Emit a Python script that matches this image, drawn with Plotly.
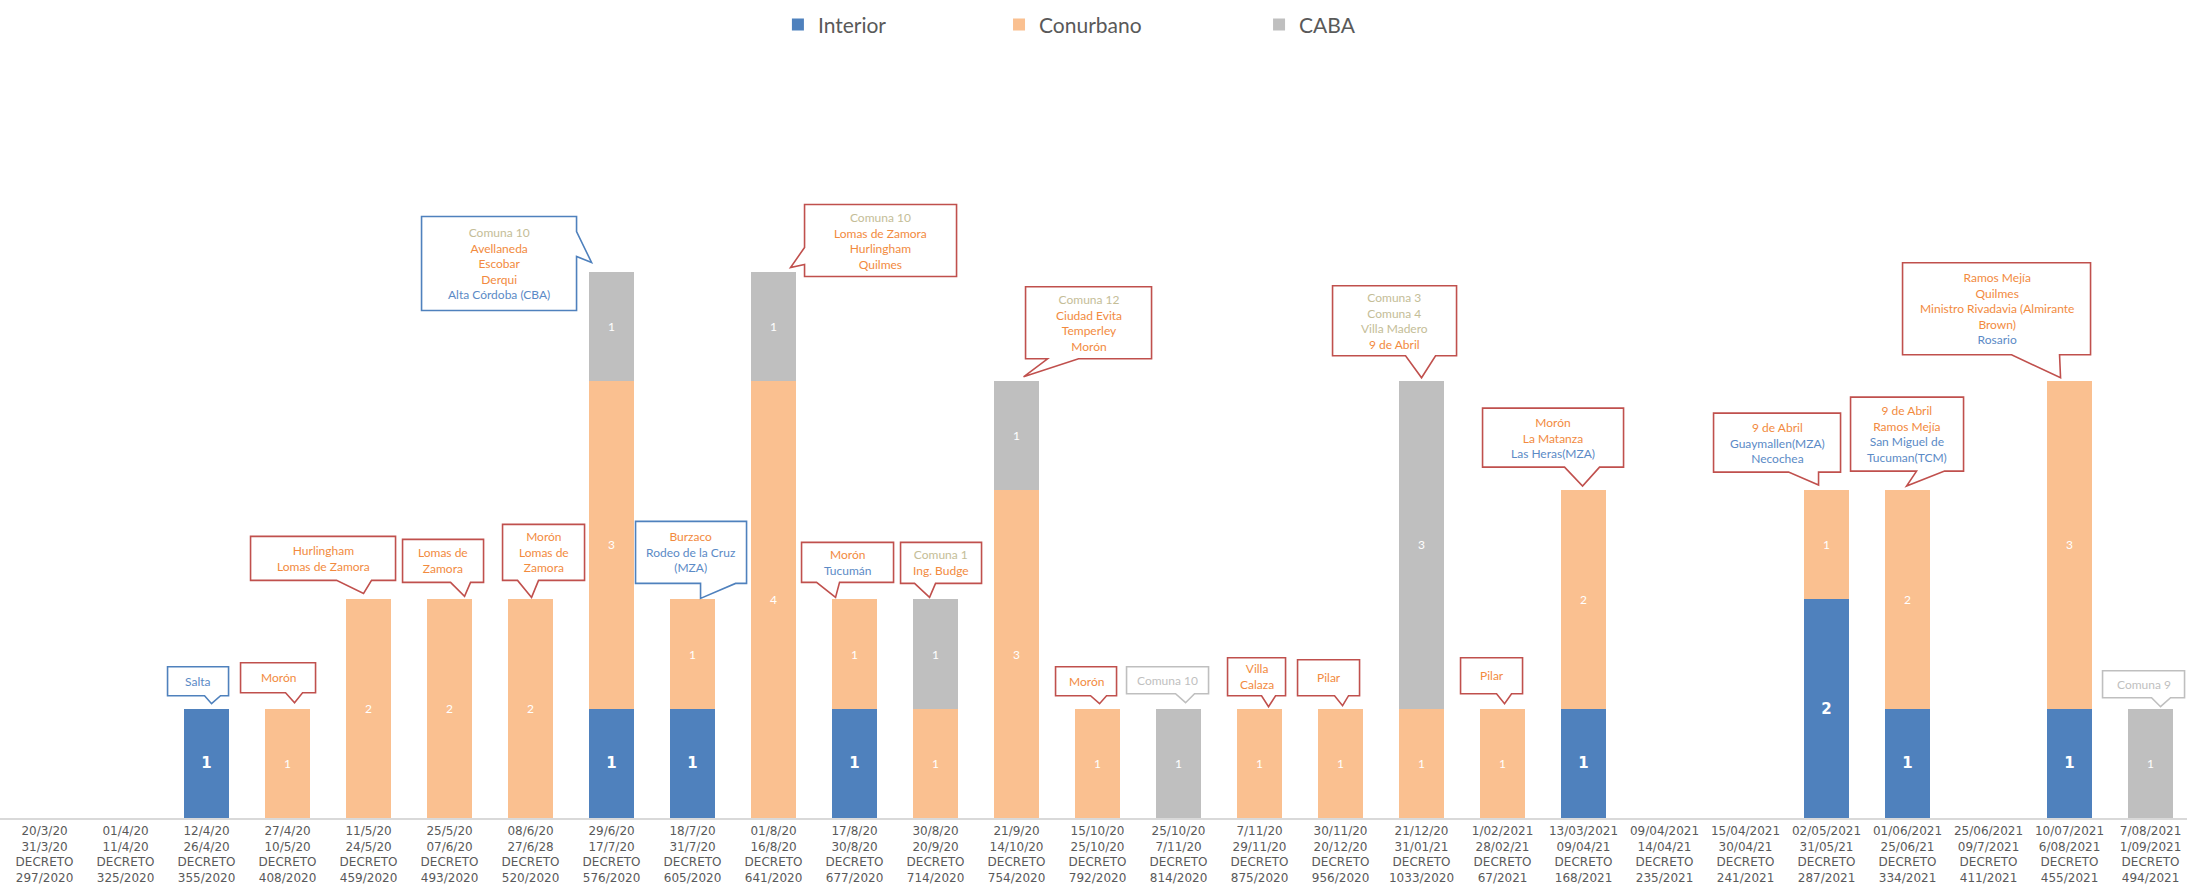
import plotly.graph_objects as go

# ---------------- data ----------------
period_start = ["20/3/20", "01/4/20", "12/4/20", "27/4/20", "11/5/20", "25/5/20", "08/6/20",
                "29/6/20", "18/7/20", "01/8/20", "17/8/20", "30/8/20", "21/9/20", "15/10/20",
                "25/10/20", "7/11/20", "30/11/20", "21/12/20", "1/02/2021", "13/03/2021",
                "09/04/2021", "15/04/2021", "02/05/2021", "01/06/2021", "25/06/2021",
                "10/07/2021", "7/08/2021"]
period_end = ["31/3/20", "11/4/20", "26/4/20", "10/5/20", "24/5/20", "07/6/20", "27/6/28",
              "17/7/20", "31/7/20", "16/8/20", "30/8/20", "20/9/20", "14/10/20", "25/10/20",
              "7/11/20", "29/11/20", "20/12/20", "31/01/21", "28/02/21", "09/04/21",
              "14/04/21", "30/04/21", "31/05/21", "25/06/21", "09/7/2021", "6/08/2021",
              "1/09/2021"]
decretos = ["297/2020", "325/2020", "355/2020", "408/2020", "459/2020", "493/2020", "520/2020",
            "576/2020", "605/2020", "641/2020", "677/2020", "714/2020", "754/2020", "792/2020",
            "814/2020", "875/2020", "956/2020", "1033/2020", "67/2021", "168/2021", "235/2021",
            "241/2021", "287/2021", "334/2021", "411/2021", "455/2021", "494/2021"]

interior = [0, 0, 1, 0, 0, 0, 0, 1, 1, 0, 1, 0, 0, 0, 0, 0, 0, 0, 0, 1, 0, 0, 2, 1, 0, 1, 0]
conurbano = [0, 0, 0, 1, 2, 2, 2, 3, 1, 4, 1, 1, 3, 1, 0, 1, 1, 1, 1, 2, 0, 0, 1, 2, 0, 3, 0]
caba = [0, 0, 0, 0, 0, 0, 0, 1, 0, 1, 0, 1, 1, 0, 1, 0, 0, 3, 0, 0, 0, 0, 0, 0, 0, 0, 1]

series_names = ["Interior", "Conurbano", "CABA"]

# callout texts per category index: list of (text, group)
callout_texts = {
    2: [("Salta", "int")],
    3: [("Morón", "con")],
    4: [("Hurlingham", "con"), ("Lomas de Zamora", "con")],
    5: [("Lomas de", "con"), ("Zamora", "con")],
    6: [("Morón", "con"), ("Lomas de", "con"), ("Zamora", "con")],
    7: [("Comuna 10", "caba"), ("Avellaneda", "con"), ("Escobar", "con"), ("Derqui", "con"),
        ("Alta Córdoba (CBA)", "int")],
    8: [("Burzaco", "con"), ("Rodeo de la Cruz", "int"), ("(MZA)", "int")],
    9: [("Comuna 10", "caba"), ("Lomas de Zamora", "con"), ("Hurlingham", "con"), ("Quilmes", "con")],
    10: [("Morón", "con"), ("Tucumán", "int")],
    11: [("Comuna 1", "caba"), ("Ing. Budge", "con")],
    12: [("Comuna 12", "caba"), ("Ciudad Evita", "con"), ("Temperley", "con"), ("Morón", "con")],
    13: [("Morón", "con")],
    14: [("Comuna 10", "cabag")],
    15: [("Villa", "con"), ("Calaza", "con")],
    16: [("Pilar", "con")],
    17: [("Comuna 3", "caba"), ("Comuna 4", "caba"), ("Villa Madero", "caba"), ("9 de Abril", "con")],
    18: [("Pilar", "con")],
    19: [("Morón", "con"), ("La Matanza", "con"), ("Las Heras(MZA)", "int")],
    22: [("9 de Abril", "con"), ("Guaymallen(MZA)", "int"), ("Necochea", "int")],
    23: [("9 de Abril", "con"), ("Ramos Mejía", "con"), ("San Miguel de", "int"), ("Tucuman(TCM)", "int")],
    25: [("Ramos Mejía", "con"), ("Quilmes", "con"), ("Ministro Rivadavia (Almirante", "con"),
         ("Brown)", "con"), ("Rosario", "int")],
    26: [("Comuna 9", "cabag")],
}

# ---------------- styles ----------------
BAR_COLORS = ["#4F81BD", "#FAC090", "#BFBFBF"]
TEXT_COLORS = {"int": "#5B8AC6", "con": "#F28A3E", "caba": "#C4BD97", "cabag": "#BFBFBF"}
BORDER = {"red": "#C0504D", "blue": "#4F81BD", "gray": "#BFBFBF"}

# callout geometry in pixels relative to bar-top centre (y up):
# box = (left, right, top, bottom); tail = (edge, a, b, tipx, tipy)
callout_geom = {
    2: ("blue", (-39, 22, 42, 13), ("bottom", -2, 14, 5, 5)),
    3: ("red", (-47, 28, 46, 16), ("bottom", -2, 15, 7, 6)),
    4: ("red", (-118, 27, 63, 19), ("bottom", -32, 3, -5, 6)),
    5: ("red", (-47, 34, 60, 17), ("bottom", 1, 21, 15, 3)),
    6: ("red", (-28, 54, 75, 19), ("bottom", -13, 8, 1, 2)),
    7: ("blue", (-190, -35, 55, -39), ("right", 40, 15, -20, 9)),
    8: ("blue", (-57, 54, 78, 16), ("bottom", 8, 43, 8, 1)),
    9: ("red", (31, 183, 67, -5), ("left", 24, 7, 17, 4)),
    10: ("red", (-53, 39, 57, 17), ("bottom", -38, -15, -19, 2)),
    11: ("red", (-35, 46, 57, 16), ("bottom", -21, 0, -6, 2)),
    12: ("red", (9, 135, 94, 22), ("bottom", 31, 62, 7, 4)),
    13: ("red", (-42, 19, 42, 13), ("bottom", -7, 9, 2, 5)),
    14: ("gray", (-52, 30, 42, 15), ("bottom", -3, 16, 7, 6)),
    15: ("red", (-32, 26, 51, 13), ("bottom", 2, 16, 9, 2)),
    16: ("red", (-43, 19, 49, 13), ("bottom", -6, 8, 2, 3)),
    17: ("red", (-89, 35, 95, 25), ("bottom", -16, 14, 0, 3)),
    18: ("red", (-42, 20, 51, 15), ("bottom", -6, 9, 2, 5)),
    19: ("red", (-101, 40, 82, 23), ("bottom", -19, 16, -1, 4)),
    22: ("red", (-113, 14, 77, 18), ("bottom", -38, -8, -8, 5)),
    23: ("red", (-57, 56, 93, 19), ("bottom", 9, 37, -1, 4)),
    25: ("red", (-167, 21, 118, 26), ("bottom", -58, -10, -9, 3)),
    26: ("gray", (-48, 34, 38, 11), ("bottom", 1, 20, 10, 2)),
}

labels = [f"{a}<br>{b}<br>DECRETO<br>{c}" for a, b, c in zip(period_start, period_end, decretos)]
xs = list(range(len(labels)))
totals = [a + b + c for a, b, c in zip(interior, conurbano, caba)]

fig = go.Figure()
series = [interior, conurbano, caba]
legend_ids = ["legend", "legend2", "legend3"]
for k, (name, vals) in enumerate(zip(series_names, series)):
    if k == 0:
        tf = dict(color="white", size=15, family="DejaVu Sans", weight="bold")
    else:
        tf = dict(color="white", size=12, family="Lato")
    fig.add_trace(go.Bar(
        x=xs, y=vals, name=name,
        marker=dict(color=BAR_COLORS[k], line=dict(width=0)),
        text=[str(v) if v else "" for v in vals],
        textposition="inside", insidetextanchor="middle", textangle=0,
        constraintext="none", textfont=tf,
        hoverinfo="skip", legend=legend_ids[k],
    ))

shapes = []
annotations = []
for idx, (col, (l, r, t, b), tail) in callout_geom.items():
    edge, a, bb, tx, ty = tail
    if edge == "bottom":
        pts = [(l, t), (r, t), (r, b), (bb, b), (tx, ty), (a, b), (l, b)]
    elif edge == "right":
        pts = [(l, t), (r, t), (r, a), (tx, ty), (r, bb), (r, b), (l, b)]
    else:  # left
        pts = [(l, t), (r, t), (r, b), (l, b), (l, bb), (tx, ty), (l, a)]
    path = "M " + " L ".join(f"{px},{py}" for px, py in pts) + " Z"
    shapes.append(dict(
        type="path", xref="x", yref="y", xsizemode="pixel", ysizemode="pixel",
        xanchor=idx, yanchor=totals[idx], path=path,
        line=dict(color=BORDER[col], width=1.6), fillcolor="white", layer="above",
    ))
    txt = "<br>".join(f"<span style='color:{TEXT_COLORS[g]}'>{s}</span>" for s, g in callout_texts[idx])
    annotations.append(dict(
        x=idx, y=totals[idx], xref="x", yref="y", text=txt, showarrow=False,
        xshift=(l + r) / 2, yshift=(t + b) / 2, xanchor="center", yanchor="middle",
        align="center", font=dict(family="Lato", size=12),
    ))

legend_style = dict(orientation="h", xref="container", yref="container", yanchor="middle",
                    y=0.972, xanchor="left", font=dict(family="Lato", size=21, color="#595959"),
                    bgcolor="rgba(0,0,0,0)")
fig.update_layout(
    width=2187, height=888,
    margin=dict(l=0, r=0, t=60, b=70, autoexpand=False),
    paper_bgcolor="white", plot_bgcolor="white",
    barmode="stack", bargap=0.445,
    shapes=shapes, annotations=annotations,
    legend=dict(legend_style, x=0.3557),
    legend2=dict(legend_style, x=0.4568),
    legend3=dict(legend_style, x=0.5757),
    xaxis=dict(range=[-0.55, 26.45], tickmode="array", tickvals=xs, ticktext=labels,
               showgrid=False, zeroline=False, showline=True, linecolor="#D9D9D9", linewidth=1.5,
               ticks="", ticklabelstandoff=1,
               tickfont=dict(family="DejaVu Sans", size=12, color="#595959"),
               automargin=False, fixedrange=True),
    yaxis=dict(range=[0, 6.935], visible=False, fixedrange=True),
    showlegend=True,
)

fig.write_html("out.html", config={"displayModeBar": False},
               post_script="document.body.style.margin='0';document.body.style.overflow='hidden';")
